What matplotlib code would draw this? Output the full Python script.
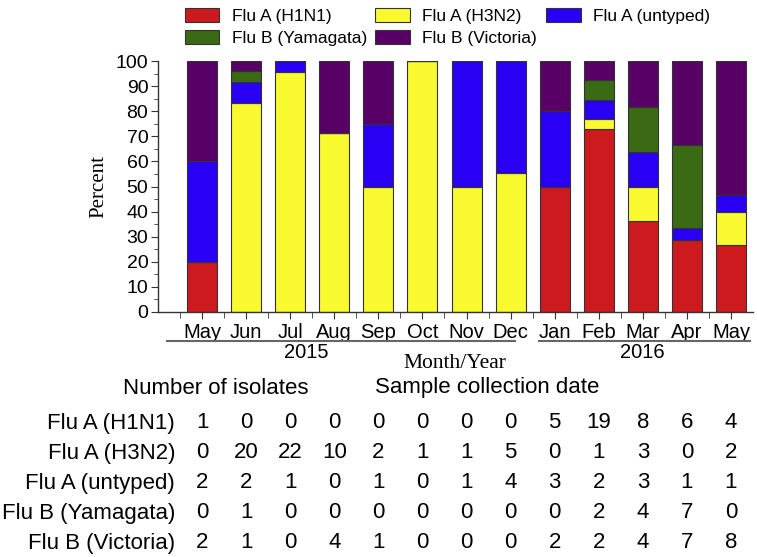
import numpy as np
import matplotlib
matplotlib.use('Agg')
import matplotlib.pyplot as plt
from matplotlib.ticker import MultipleLocator
from matplotlib.transforms import blended_transform_factory

# 分離株数 (Number of isolates)
months = ['May', 'Jun', 'Jul', 'Aug', 'Sep', 'Oct', 'Nov', 'Dec',
          'Jan', 'Feb', 'Mar', 'Apr', 'May']
types = ['Flu A (H1N1)', 'Flu A (H3N2)', 'Flu A (untyped)',
         'Flu B (Yamagata)', 'Flu B (Victoria)']
h1n1 = [1, 0, 0, 0, 0, 0, 0, 0, 5, 19, 8, 6, 4]
h3n2 = [0, 20, 22, 10, 2, 1, 1, 5, 0, 1, 3, 0, 2]
untyped = [2, 2, 1, 0, 1, 0, 1, 4, 3, 2, 3, 1, 1]
yamagata = [0, 1, 0, 0, 0, 0, 0, 0, 0, 2, 4, 7, 0]
victoria = [2, 1, 0, 4, 1, 0, 0, 0, 2, 2, 4, 7, 8]
years = ['2015', '2016']
colors = ['#cc1a1e', '#f9f930', '#2a00f5', '#3a6b14', '#580065']

W, H = 757, 557
fig = plt.figure(figsize=(W / 100, H / 100), dpi=100)
def px(x0, y0, w, h):   # pixel box -> figure fraction
    return [x0 / W, 1 - (y0 + h) / H, w / W, h / H]

ax = fig.add_axes(px(158, 61, 595, 251))

counts = np.array([h1n1, h3n2, untyped, yamagata, victoria], dtype=float)
pct = counts / counts.sum(axis=0) * 100
x = np.arange(len(months))
bottom = np.zeros(len(months))
handles = []
for i in range(len(types)):
    b = ax.bar(x, pct[i], 0.68, bottom=bottom, color=colors[i],
               edgecolor='#333333', linewidth=0.8, label=types[i])
    handles.append(b)
    bottom += pct[i]

ax.set_xlim(-1, 12.5)
ax.set_ylim(0, 100)
for s in ['top', 'right']:
    ax.spines[s].set_visible(False)
for s in ['left', 'bottom']:
    ax.spines[s].set_color('#333333')
    ax.spines[s].set_linewidth(1.0)
ax.yaxis.set_major_locator(MultipleLocator(10))
ax.yaxis.set_minor_locator(MultipleLocator(5))
ax.set_xticks(x)
ax.set_xticks(np.arange(-0.5, 12.5, 1), minor=True)
ax.set_xticklabels(months, fontsize=14.5, family='Liberation Sans')
ax.tick_params(axis='x', which='major', length=5, pad=3, color='#333333')
ax.tick_params(axis='x', which='minor', length=4, color='#333333')
ax.tick_params(axis='y', which='major', length=5, pad=2, labelsize=14, color='#333333')
ax.tick_params(axis='y', which='minor', length=3, color='#333333')
for t in ax.get_yticklabels():
    t.set_family('Liberation Sans')
ax.set_ylabel('Percent', family='Liberation Serif', fontsize=15, labelpad=5)

# 年のライン
ya = 1 - 341 / H
fig.add_artist(plt.Line2D([167 / W, 515 / W], [ya, ya], color='#666666', lw=1.5))
fig.add_artist(plt.Line2D([539 / W, 750 / W], [ya, ya], color='#666666', lw=1.5))
fig.text(306 / W, 1 - 352 / H, years[0], ha='center', va='center', fontsize=14.5, family='Liberation Sans')
fig.text(642 / W, 1 - 352 / H, years[1], ha='center', va='center', fontsize=14.5, family='Liberation Sans')
fig.text(455 / W, 1 - 363 / H, 'Month/Year', ha='center', va='center', fontsize=15.5, family='Liberation Serif')

# legend (3列, 行優先の並び)
order = [0, 3, 1, 4, 2]
fig.legend(handles=[handles[i] for i in order], labels=[types[i] for i in order],
           ncol=3, loc='upper left',
           bbox_to_anchor=(176 / W, 1 + 1 / H), frameon=False, borderpad=0,
           prop={'family': 'Liberation Sans', 'size': 12.5}, handlelength=2.0,
           handleheight=0.86, handletextpad=0.7, columnspacing=0.5, labelspacing=0.35)

# table
tf = {'family': 'Liberation Sans', 'size': 16}
fig.text(216 / W, 1 - 388 / H, 'Number of isolates', ha='center', va='center', **tf)
fig.text(487 / W, 1 - 388 / H, 'Sample collection date', ha='center', va='center', **tf)
trans = blended_transform_factory(ax.transData, fig.transFigure)
for r in range(len(types)):
    yy = 1 - (423 + 30 * r) / H
    fig.text(175 / W, yy, types[r], ha='right', va='center', **tf)
    for c in range(len(months)):
        fig.text(x[c], yy, '%d' % counts[r, c], ha='center', va='center',
                 transform=trans, **tf)

fig.savefig('out.png', dpi=100)
